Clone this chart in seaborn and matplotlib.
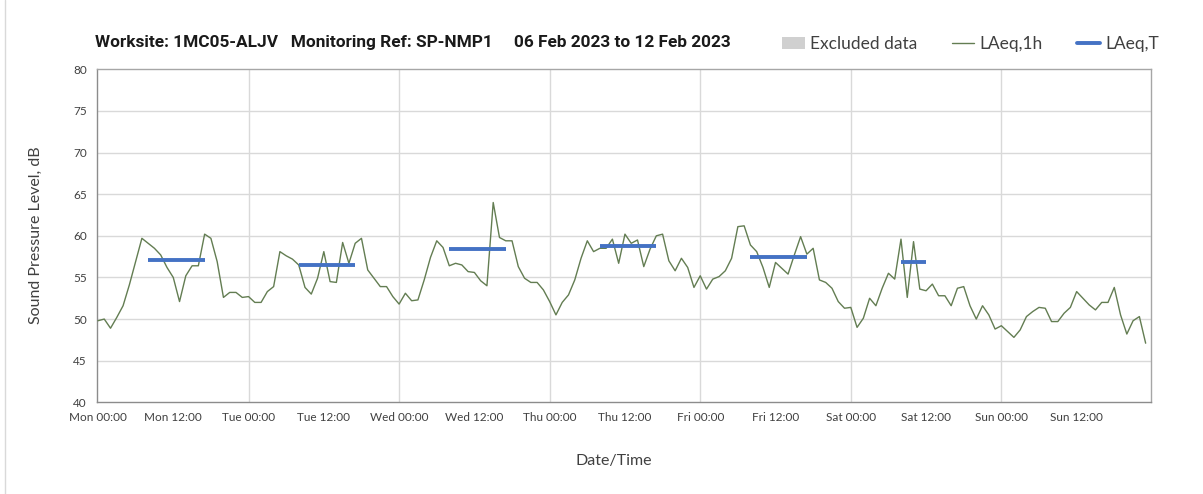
import numpy as np
import pandas as pd
import matplotlib
matplotlib.use("Agg")
import matplotlib.pyplot as plt
from matplotlib.lines import Line2D
from matplotlib.patches import Patch
import seaborn as sns

# hourly LAeq,1h values (dB), one list per day, starting 00:00
mon = [49.8, 50.0, 48.9, 50.2, 51.6, 54.1, 56.9, 59.7, 59.1, 58.5, 57.7, 56.2,
       55.0, 52.1, 55.2, 56.4, 56.4, 60.2, 59.7, 56.9, 52.6, 53.2, 53.2, 52.6]
tue = [52.7, 52.0, 52.0, 53.3, 53.9, 58.1, 57.6, 57.2, 56.5, 53.8, 53.0, 54.9,
       58.1, 54.5, 54.4, 59.2, 56.7, 59.1, 59.7, 55.9, 54.9, 53.9, 53.9, 52.7]
wed = [51.8, 53.1, 52.2, 52.3, 54.7, 57.4, 59.4, 58.6, 56.4, 56.7, 56.5, 55.7,
       55.6, 54.6, 54.0, 64.0, 59.8, 59.4, 59.4, 56.3, 54.9, 54.4, 54.4, 53.5]
thu = [52.1, 50.5, 52.0, 52.9, 54.7, 57.3, 59.4, 58.1, 58.5, 58.5, 59.6, 56.7,
       60.2, 59.1, 59.5, 56.3, 58.4, 60.0, 60.2, 57.0, 55.8, 57.3, 56.2, 53.8]
fri = [55.2, 53.6, 54.8, 55.1, 55.8, 57.3, 61.1, 61.2, 58.9, 58.1, 56.2, 53.8,
       56.8, 56.1, 55.4, 57.7, 59.9, 57.8, 58.5, 54.7, 54.4, 53.7, 52.1, 51.3]
sat = [51.4, 49.0, 50.1, 52.5, 51.6, 53.7, 55.5, 54.8, 59.6, 52.6, 59.3, 53.6,
       53.4, 54.2, 52.8, 52.8, 51.6, 53.7, 53.9, 51.6, 50.0, 51.6, 50.5, 48.8]
sun = [49.2, 48.5, 47.8, 48.7, 50.3, 50.9, 51.4, 51.3, 49.7, 49.7, 50.7, 51.4,
       53.3, 52.5, 51.7, 51.1, 52.0, 52.0, 53.8, 50.5, 48.2, 49.8, 50.3, 47.1]

# LAeq,T period levels (day index, start hour, end hour, level)
laeqt_day = [0, 1, 2, 3, 4, 5]
laeqt_start = [8, 8, 8, 8, 8, 8]
laeqt_end = [17, 17, 17, 17, 17, 12]
laeqt_val = [57.1, 56.5, 58.4, 58.8, 57.4, 56.8]

day_names = ["Mon", "Tue", "Wed", "Thu", "Fri", "Sat", "Sun"]
tick_labels = [f"{d} {t}" for d in day_names for t in ["00:00", "12:00"]]

title = "Worksite: 1MC05-ALJV   Monitoring Ref: SP-NMP1     06 Feb 2023 to 12 Feb 2023"

levels = mon + tue + wed + thu + fri + sat + sun
hourly = pd.DataFrame({"hour": np.arange(len(levels)), "level": levels})

rows = []
for d, s, e, v in zip(laeqt_day, laeqt_start, laeqt_end, laeqt_val):
    for h in range(s, e + 1):
        rows.append({"day": d, "hour": d * 24 + h, "level": v})
periods = pd.DataFrame(rows)

sns.set_style("white")
plt.rcParams["font.family"] = ["Lato", "DejaVu Sans"]

green = "#637d52"
blue = "#4472c4"
grid = "#d9d9d9"
txt = "#404040"

fig = plt.figure(figsize=(12.03, 4.94), dpi=100, facecolor="white")
ax = fig.add_axes([0.0804, 0.1856, 0.8761, 0.6741])

sns.lineplot(data=hourly, x="hour", y="level", ax=ax, color=green, linewidth=1.0, zorder=3)
sns.lineplot(data=periods, x="hour", y="level", units="day", estimator=None, ax=ax,
             color=blue, linewidth=2.8, solid_capstyle="butt", zorder=4)

ax.set_xlim(-0.2, 167.8)
ax.set_ylim(40, 80)
ax.set_yticks(np.arange(40, 81, 5))
ax.set_xticks(np.arange(0, 168, 12))
ax.set_xticklabels(tick_labels)
ax.tick_params(axis="both", labelsize=8.5, colors=txt, length=4, width=0.8, direction="out")
ax.tick_params(axis="x", color="#8c8c8c", pad=3)
ax.tick_params(axis="y", color="#8c8c8c", pad=3)
for lbl in ax.get_xticklabels() + ax.get_yticklabels():
    lbl.set_color(txt)

for y in np.arange(45, 80, 5):
    ax.axhline(y, color=grid, linewidth=1.0, zorder=1)
for x in np.arange(24, 168, 24):
    ax.axvline(x, color=grid, linewidth=1.0, zorder=1)

for side in ["left", "bottom"]:
    ax.spines[side].set_color("#8c8c8c")
    ax.spines[side].set_linewidth(1.0)
for side in ["top", "right"]:
    ax.spines[side].set_visible(True)
    ax.spines[side].set_color("#a6a6a6")
    ax.spines[side].set_linewidth(1.0)

ax.set_xlabel("")
ax.set_ylabel("")
fig.text(0.030, 0.524, "Sound Pressure Level, dB", rotation=90, ha="center", va="center",
         fontsize=11.5, color=txt)
fig.text(0.510, 0.067, "Date/Time", ha="center", va="center", fontsize=11.5, color=txt)

fig.text(0.079, 0.914, title, ha="left", va="center", fontsize=12.4, fontweight="bold",
         color="#1a1a1a", family=["Liberation Sans Narrow", "Roboto", "DejaVu Sans"])

handles = [Patch(facecolor="#d0d0d0", edgecolor="none"),
           Line2D([0], [0], color=green, linewidth=1.0),
           Line2D([0], [0], color=blue, linewidth=2.8)]
fig.legend(handles, ["Excluded data", "LAeq,1h", "LAeq,T"], loc="center left",
           bbox_to_anchor=(0.637, 0.911), ncol=3, frameon=False, fontsize=12.5,
           handlelength=1.3, handleheight=0.65, handletextpad=0.3, columnspacing=2.0,
           labelcolor=txt)

fig.add_artist(Line2D([0.0045, 0.0045], [0, 1], color="#d9d9d9", linewidth=1.0,
                      transform=fig.transFigure))

fig.savefig("out.png", dpi=100, facecolor="white")
